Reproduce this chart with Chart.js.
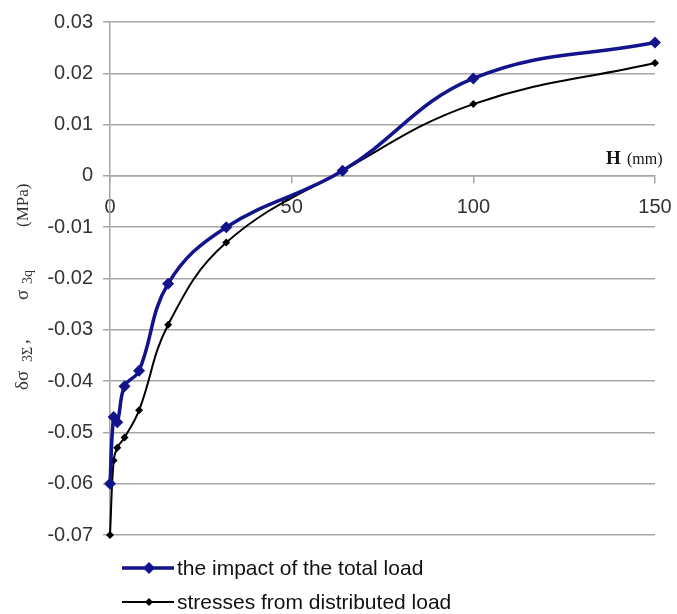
<!DOCTYPE html>
<html>
<head>
<meta charset="utf-8">
<script src="https://cdn.jsdelivr.net/npm/chart.js@4/dist/chart.umd.min.js"></script>
<style>
  html, body { margin: 0; padding: 0; background: #ffffff; }
  #wrap { width: 677px; height: 614px; position: relative; }
</style>
</head>
<body>
<div id="wrap"><canvas id="c" width="677" height="614"></canvas></div>
<script>
// ---- data ----
const H = [0, 1, 2, 4, 8, 16, 32, 64, 100, 150];
const totalLoad = [-0.060, -0.047, -0.048, -0.041, -0.038, -0.021, -0.010, 0.001, 0.019, 0.026];
const distributedLoad = [-0.070, -0.0555, -0.053, -0.051, -0.0457, -0.029, -0.013, 0.001, 0.014, 0.022];
const seriesNames = ['the impact of the total load', 'stresses from distributed load'];
const xTicks = [0, 50, 100, 150];
const yTicks = [0.03, 0.02, 0.01, 0, -0.01, -0.02, -0.03, -0.04, -0.05, -0.06, -0.07];

const BLUE = '#13138c';
const BLACK = '#000000';
const GRID = '#a6a6a6';

const toPts = (xs, ys) => xs.map((x, i) => ({ x: x, y: ys[i] }));

const extras = {
  id: 'extras',
  afterDraw(chart) {
    const ctx = chart.ctx;
    ctx.save();
    // Y axis title (rotated, with subscripts)
    ctx.translate(22, 390);
    ctx.rotate(-Math.PI / 2);
    ctx.fillStyle = '#333333';
    ctx.textBaseline = 'alphabetic';
    ctx.textAlign = 'left';
    const parts = [
      { t: 'δσ', f: '19px "Liberation Serif"', off: 0, dy: 0 },
      { t: '3Σ', f: '14px "Liberation Serif"', off: 28, dy: 4 },
      { t: ',', f: '19px "Liberation Serif"', off: 46, dy: 0 },
      { t: 'σ', f: '19px "Liberation Serif"', off: 90, dy: 0 },
      { t: '3q', f: '14px "Liberation Serif"', off: 106, dy: 4 },
      { t: '(MPa)', f: '17px "Liberation Serif"', off: 163, dy: 0 }
    ];
    parts.forEach(p => {
      ctx.font = p.f;
      ctx.fillText(p.t, p.off, 6 + p.dy);
    });
    ctx.restore();

    // X axis title "H (mm)"
    ctx.save();
    ctx.fillStyle = '#111111';
    ctx.textBaseline = 'alphabetic';
    ctx.font = 'bold 19px "Liberation Serif"';
    ctx.fillText('H', 606, 164);
    ctx.font = '16px "Liberation Serif"';
    ctx.fillText('(mm)', 627, 164);
    ctx.restore();

    // Legend
    const items = [
      { name: seriesNames[0], color: BLUE, lw: 3.5, r: 6, y: 568, tb: 575 },
      { name: seriesNames[1], color: BLACK, lw: 2, r: 4, y: 602, tb: 609 }
    ];
    ctx.save();
    items.forEach(it => {
      ctx.strokeStyle = it.color;
      ctx.lineWidth = it.lw;
      ctx.beginPath();
      ctx.moveTo(122, it.y);
      ctx.lineTo(174, it.y);
      ctx.stroke();
      ctx.fillStyle = it.color;
      ctx.beginPath();
      ctx.moveTo(149, it.y - it.r);
      ctx.lineTo(149 + it.r, it.y);
      ctx.lineTo(149, it.y + it.r);
      ctx.lineTo(149 - it.r, it.y);
      ctx.closePath();
      ctx.fill();
      ctx.fillStyle = '#111111';
      ctx.font = '21px "Liberation Sans"';
      ctx.textBaseline = 'alphabetic';
      ctx.fillText(it.name, 177, it.tb);
    });
    ctx.restore();
  }
};

new Chart(document.getElementById('c'), {
  type: 'line',
  data: {
    datasets: [
      {
        label: seriesNames[0],
        data: toPts(H, totalLoad),
        borderColor: BLUE,
        backgroundColor: BLUE,
        borderWidth: 3.5,
        pointStyle: 'rectRot',
        pointRadius: 6,
        pointBorderWidth: 0,
        tension: 0.4,
        clip: false,
        order: 0
      },
      {
        label: seriesNames[1],
        data: toPts(H, distributedLoad),
        borderColor: BLACK,
        backgroundColor: BLACK,
        borderWidth: 2,
        pointStyle: 'rectRot',
        pointRadius: 4,
        pointBorderWidth: 0,
        tension: 0.4,
        clip: false,
        order: 1
      }
    ]
  },
  options: {
    responsive: false,
    devicePixelRatio: 1,
    animation: false,
    layout: { padding: { left: 0, right: 22, top: 22, bottom: 79 } },
    plugins: {
      legend: { display: false },
      tooltip: { enabled: false },
      title: { display: false }
    },
    scales: {
      x: {
        type: 'linear',
        position: { y: 0 },
        min: 0,
        max: 150,
        afterBuildTicks: s => { s.ticks = xTicks.map(v => ({ value: v })); },
        afterFit: s => { s.paddingLeft = 0; s.paddingRight = 0; },
        ticks: {
          font: { family: 'Liberation Sans', size: 20 },
          color: '#333333',
          padding: 13,
          maxRotation: 0,
          callback: v => String(v)
        },
        grid: {
          display: true,
          drawOnChartArea: false,
          drawTicks: true,
          tickLength: 7,
          color: GRID,
          lineWidth: 1.5
        },
        border: { display: true, color: GRID, width: 1.5 }
      },
      y: {
        type: 'linear',
        position: 'left',
        min: -0.07,
        max: 0.03,
        afterBuildTicks: s => { s.ticks = yTicks.map(v => ({ value: v })); },
        afterFit: s => { s.width = 110; s.paddingTop = 0; s.paddingBottom = 0; },
        ticks: {
          font: { family: 'Liberation Sans', size: 20 },
          color: '#333333',
          padding: 10,
          callback: v => String(+Number(v).toFixed(2))
        },
        grid: {
          display: true,
          drawOnChartArea: true,
          drawTicks: true,
          tickLength: 7,
          color: GRID,
          lineWidth: 1.5
        },
        border: { display: true, color: GRID, width: 1.5 }
      }
    }
  },
  plugins: [extras]
});
</script>
</body>
</html>
